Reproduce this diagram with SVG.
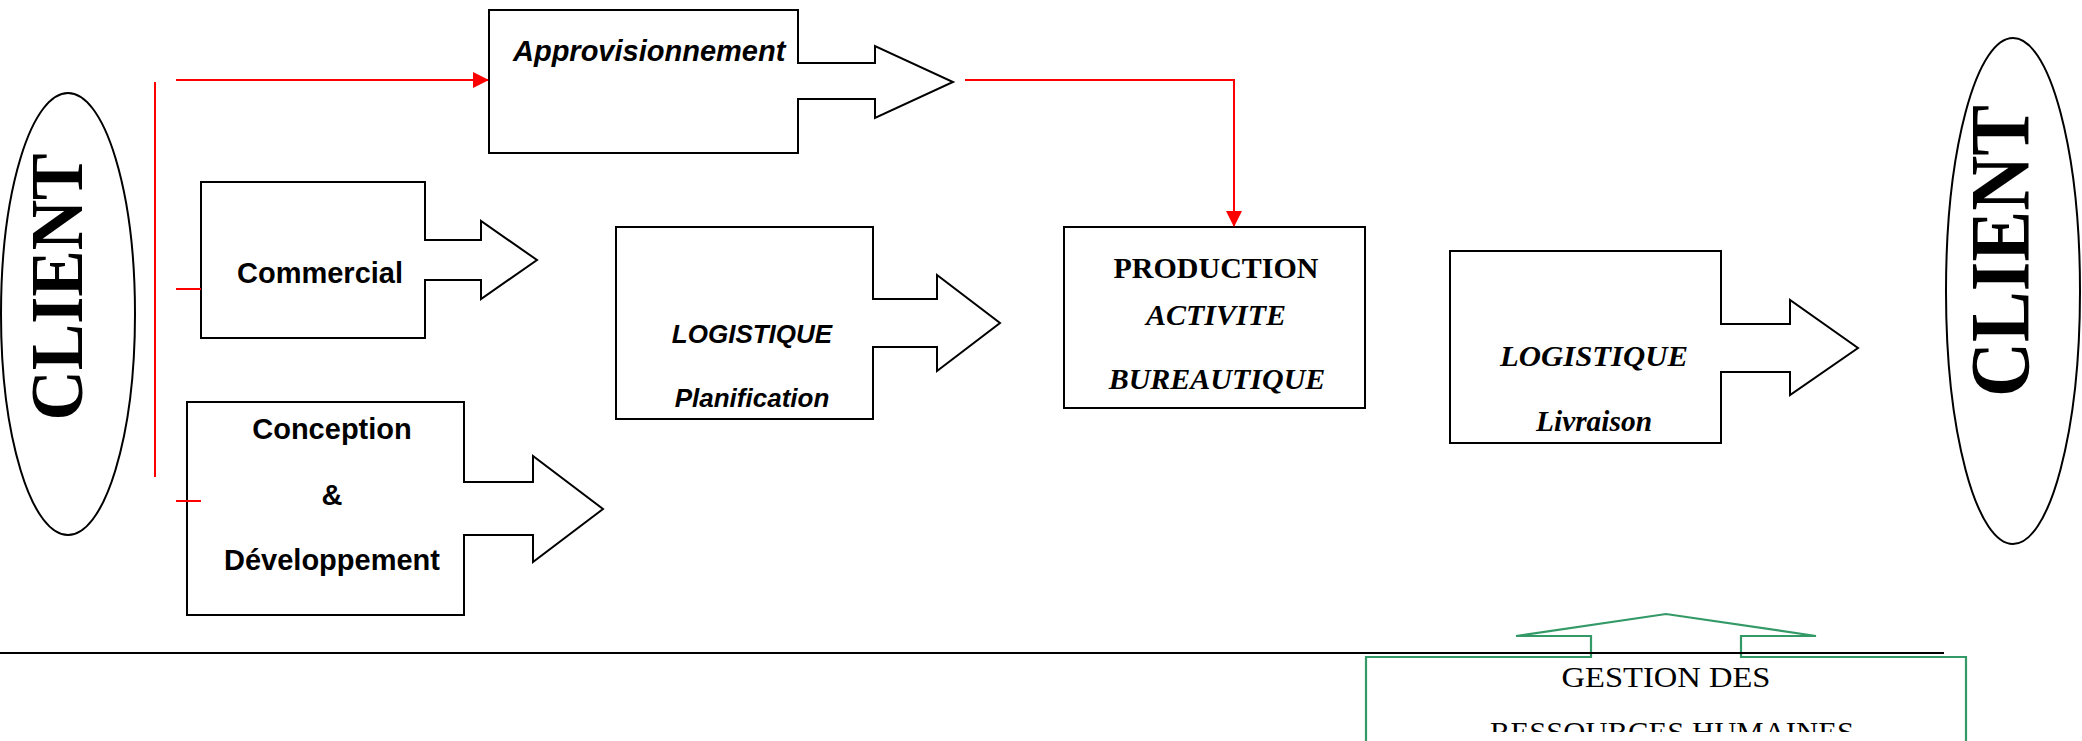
<svg xmlns="http://www.w3.org/2000/svg" width="2082" height="741" viewBox="0 0 2082 741">
  <style>
    .shape { fill: #fff; stroke: #000; stroke-width: 2; }
    .red { fill: none; stroke: #f00; stroke-width: 2; }
    .green { fill: none; stroke: #339966; stroke-width: 2.2; }
    .sans { font-family: "Liberation Sans", Arial, sans-serif; font-weight: bold; font-size: 29px; fill: #000; }
    .sansi { font-family: "Liberation Sans", Arial, sans-serif; font-weight: bold; font-style: italic; fill: #000; }
    .serif { font-family: "Liberation Serif", "Times New Roman", serif; fill: #000; }
    .client { font-family: "Liberation Serif", "Times New Roman", serif; font-weight: bold; fill: #000; }
  </style>
  <defs>
    <marker id="redHead" markerWidth="16" markerHeight="16" refX="15" refY="8" orient="auto" markerUnits="userSpaceOnUse" viewBox="0 0 16 16">
      <path d="M0,0 L16,8 L0,16 Z" fill="#f00"/>
    </marker>
    <clipPath id="rhClip">
      <rect x="1368" y="659" width="596" height="73"/>
    </clipPath>
  </defs>
  <rect width="2082" height="741" fill="#fff"/>

  <!-- client on the left -->
  <g id="client-left">
    <ellipse cx="68" cy="314" rx="67" ry="221" class="shape"/>
    <text class="client" font-size="75" transform="translate(82,287) rotate(-90)" text-anchor="middle" textLength="267" lengthAdjust="spacingAndGlyphs">CLIENT</text>
  </g>

  <!-- supplies -->
  <g id="approvisionnement">
    <path class="shape" d="M489,10 H798 V63 H875 V46 L953,82 L875,118 V99 H798 V153 H489 Z"/>
    <text class="sansi" font-size="29" x="513" y="61">Approvisionnement</text>
  </g>

  <!-- sales -->
  <g id="commercial">
    <path class="shape" d="M201,182 H425 V240 H481 V221 L537,260 L481,299 V280 H425 V338 H201 Z"/>
    <text class="sans" x="320" y="283" text-anchor="middle">Commercial</text>
  </g>

  <!-- design and development -->
  <g id="conception">
    <path class="shape" d="M187,402 H464 V482 H533 V456 L603,509 L533,562 V535 H464 V615 H187 Z"/>
    <text class="sans" x="332" y="439" text-anchor="middle">Conception</text>
    <text class="sans" x="332" y="505" text-anchor="middle">&amp;</text>
    <text class="sans" x="332" y="570" text-anchor="middle">Développement</text>
  </g>

  <!-- planning -->
  <g id="logistique-planification">
    <path class="shape" d="M616,227 H873 V299 H937 V275 L1000,323 L937,371 V347 H873 V419 H616 Z"/>
    <text class="sansi" font-size="26" x="752" y="343" text-anchor="middle">LOGISTIQUE</text>
    <text class="sansi" font-size="26" x="752" y="407" text-anchor="middle">Planification</text>
  </g>

  <!-- production -->
  <g id="production">
    <rect class="shape" x="1064" y="227" width="301" height="181"/>
    <text class="serif" font-size="30" font-weight="bold" x="1216" y="278" text-anchor="middle">PRODUCTION</text>
    <text class="serif" font-size="30" font-weight="bold" font-style="italic" x="1216" y="325" text-anchor="middle">ACTIVITE</text>
    <text class="serif" font-size="30" font-weight="bold" font-style="italic" x="1217" y="389" text-anchor="middle">BUREAUTIQUE</text>
  </g>

  <!-- delivery -->
  <g id="logistique-livraison">
    <path class="shape" d="M1450,251 H1721 V324 H1790 V300 L1858,348 L1790,395 V372 H1721 V443 H1450 Z"/>
    <text class="serif" font-size="29" font-weight="bold" font-style="italic" x="1594" y="366" text-anchor="middle" textLength="188" lengthAdjust="spacingAndGlyphs">LOGISTIQUE</text>
    <text class="serif" font-size="29" font-weight="bold" font-style="italic" x="1594" y="431" text-anchor="middle" textLength="116" lengthAdjust="spacingAndGlyphs">Livraison</text>
  </g>

  <!-- client on the right -->
  <g id="client-right">
    <ellipse cx="2013" cy="291" rx="67" ry="253" class="shape"/>
    <text class="client" font-size="84" transform="translate(2029,251) rotate(-90)" text-anchor="middle" textLength="292" lengthAdjust="spacingAndGlyphs">CLIENT</text>
  </g>

  <!-- human resources -->
  <g id="gestion-rh">
    <path class="green" d="M1366,745 V657 H1591 V636 H1516 L1666,614 L1816,636 H1741 V657 H1966 V745"/>
    <text class="serif" font-size="29" x="1666" y="687" text-anchor="middle" textLength="209" lengthAdjust="spacingAndGlyphs">GESTION DES</text>
    <g clip-path="url(#rhClip)">
      <text class="serif" font-size="29" x="1672" y="742" text-anchor="middle" textLength="364" lengthAdjust="spacingAndGlyphs">RESSOURCES  HUMAINES</text>
    </g>
  </g>

  <!-- connectors -->
  <g id="connectors">
    <line class="red" x1="155" y1="82" x2="155" y2="477"/>
    <line class="red" x1="176" y1="80" x2="488" y2="80" marker-end="url(#redHead)"/>
    <line class="red" x1="176" y1="289" x2="201" y2="289"/>
    <line class="red" x1="176" y1="501" x2="201" y2="501"/>
    <polyline class="red" points="965,80 1234,80 1234,226" marker-end="url(#redHead)"/>
    <line x1="0" y1="653" x2="1944" y2="653" stroke="#000" stroke-width="2"/>
  </g>
</svg>
